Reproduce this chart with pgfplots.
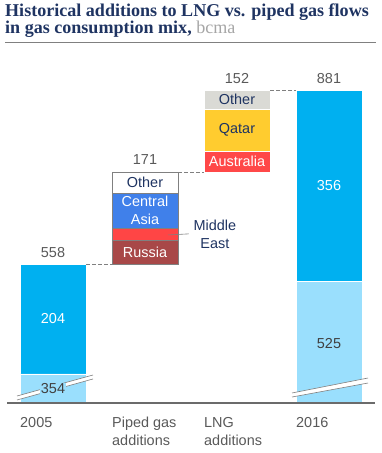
\documentclass[border=0pt]{standalone}
\usepackage{graphicx}
\usepackage{pgfplots}
\pgfplotsset{compat=1.18}
\usepackage{fontspec}
\setmainfont{Liberation Sans}
\newfontfamily\titlefont{Liberation Serif}

\definecolor{navy}{HTML}{1F3462}
\definecolor{labgray}{HTML}{595959}
\definecolor{dgray}{HTML}{404040}
\definecolor{cyanb}{HTML}{00B0F0}
\definecolor{lcyan}{HTML}{9ADFFD}
\definecolor{russia}{HTML}{A84848}
\definecolor{mered}{HTML}{FF4545}
\definecolor{cablue}{HTML}{4080EA}
\definecolor{qatar}{HTML}{FFCC2F}
\definecolor{aus}{HTML}{FF4848}
\definecolor{lngoth}{HTML}{DADAD5}
\definecolor{outgray}{HTML}{808080}
\definecolor{axgray}{HTML}{6B6B6B}
\definecolor{bcmagray}{HTML}{A6A6A6}

\newlength\tw
\settowidth\tw{\titlefont\bfseries\fontsize{12}{14}\selectfont Historical additions to LNG vs. piped gas flows}
\pgfmathsetmacro\tsize{12*365/\tw}

\newcommand\fs{\fontsize{14.5}{18}\selectfont}

\pgfplotsset{wf/.style={at={(7bp,50bp)},anchor=south west,scale only axis,
  width=368bp,height=355.5bp,xmin=-0.5,xmax=3.5,ymin=300,ymax=960}}

\begin{document}
\begin{tikzpicture}
\path[use as bounding box] (0,0) rectangle (382bp,453bp);

% title
\node[anchor=base west,inner sep=0,text=navy] at (5bp,436bp)
  {\titlefont\bfseries\fontsize{\tsize}{\tsize}\selectfont Historical additions to LNG vs. piped gas flows};
\node[anchor=base west,inner sep=0,text=navy] at (5bp,419bp)
  {\titlefont\fontsize{\tsize}{\tsize}\selectfont\textbf{in gas consumption mix,} \textcolor{bcmagray}{bcma}};
\draw[outgray,line width=1bp] (5bp,410bp) -- (376bp,410bp);

% 2005 and 2016
\begin{axis}[wf, ybar stacked, bar width=0.717, axis on top,
  axis y line=none, axis x line*=bottom,
  x axis line style={-,draw=axgray,line width=2.2bp},
  xtick={0,1,2,3},
  xticklabels={{2005\\\phantom{x}},{Piped gas\\additions},{LNG\\additions},{2016\\\phantom{x}}},
  major tick length=0pt,
  xticklabel style={anchor=base west,align=left,inner sep=0pt,xshift=-33bp,yshift=-42bp,
    text=labgray,font=\fs}]
\addplot[fill=lcyan,draw=white,line width=0.8bp] coordinates {(0,354) (3,525)};
\addplot[fill=cyanb,draw=white,line width=0.8bp] coordinates {(0,204) (3,356)};
\end{axis}

% piped gas additions
\begin{axis}[wf, ybar stacked, bar width=0.717, hide axis]
\addplot[draw=none,fill=none] coordinates {(1,558)};
\addplot[fill=russia,draw=outgray,line width=0.5bp] coordinates {(1,44)};
\addplot[fill=mered,draw=outgray,line width=0.5bp] coordinates {(1,22)};
\addplot[fill=cablue,draw=outgray,line width=0.5bp] coordinates {(1,66)};
\addplot[fill=white,draw=outgray,line width=0.5bp] coordinates {(1,39)};
\end{axis}

% LNG additions
\begin{axis}[wf, ybar stacked, bar width=0.717, hide axis]
\addplot[draw=none,fill=none] coordinates {(2,729)};
\addplot[fill=aus,draw=white,line width=0.8bp] coordinates {(2,38)};
\addplot[fill=qatar,draw=white,line width=0.8bp] coordinates {(2,79)};
\addplot[fill=lngoth,draw=white,line width=0.8bp] coordinates {(2,35)};
\end{axis}

% connectors, breaks and labels
\begin{axis}[wf, hide axis]
\addplot[outgray,line width=0.8bp,dash pattern=on 4bp off 2bp] coordinates {(0.359,558) (0.641,558)};
\addplot[outgray,line width=0.8bp,dash pattern=on 4bp off 2bp] coordinates {(1.359,729) (1.641,729)};
\addplot[outgray,line width=0.8bp,dash pattern=on 4bp off 2bp] coordinates {(2.359,881) (2.641,881)};
\addplot[outgray,line width=0.6bp] coordinates {(1.25,612) (1.478,614)};

% axis breaks
\fill[white] (axis cs:-0.391,305.6) -- (axis cs:0.435,344.6) -- (axis cs:0.435,352) -- (axis cs:-0.391,313) -- cycle;
\draw[outgray,line width=0.6bp] (axis cs:-0.391,305.6) -- (axis cs:0.435,344.6);
\draw[outgray,line width=0.6bp] (axis cs:-0.391,313) -- (axis cs:0.435,352);
\fill[white] (axis cs:2.598,311.1) -- (axis cs:3.424,337.1) -- (axis cs:3.424,346.4) -- (axis cs:2.598,318.6) -- cycle;
\draw[outgray,line width=0.6bp] (axis cs:2.598,311.1) -- (axis cs:3.424,337.1);
\draw[outgray,line width=0.6bp] (axis cs:2.598,318.6) -- (axis cs:3.424,346.4);

% totals
\node[font=\fs,text=labgray,anchor=base,yshift=7bp] at (axis cs:0,558) {558};
\node[font=\fs,text=labgray,anchor=base,yshift=7bp] at (axis cs:1,729) {171};
\node[font=\fs,text=labgray,anchor=base,yshift=7bp] at (axis cs:2,881) {152};
\node[font=\fs,text=labgray,anchor=base,yshift=7bp] at (axis cs:3,881) {881};

% segment labels
\node[font=\fs,text=dgray,fill=lcyan,inner sep=1bp] at (axis cs:0,326) {354};
\node[font=\fs,text=white] at (axis cs:0,457) {204};
\node[font=\fs,text=dgray] at (axis cs:3,411) {525};
\node[font=\fs,text=white] at (axis cs:3,703) {356};

\node[font=\fs,text=white] at (axis cs:1,580) {Russia};
\node[font=\fs,text=white,align=center] at (axis cs:1,657) {Central\\Asia};
\node[font=\fs,text=navy] at (axis cs:1,709.5) {Other};
\node[font=\fs,text=navy,align=center] at (axis cs:1.76,613) {Middle\\East};

\node[font=\fs,text=white] at (axis cs:2,748) {Australia};
\node[font=\fs,text=navy] at (axis cs:2,806.5) {Qatar};
\node[font=\fs,text=navy] at (axis cs:2,863.5) {Other};
\end{axis}
\end{tikzpicture}
\end{document}
